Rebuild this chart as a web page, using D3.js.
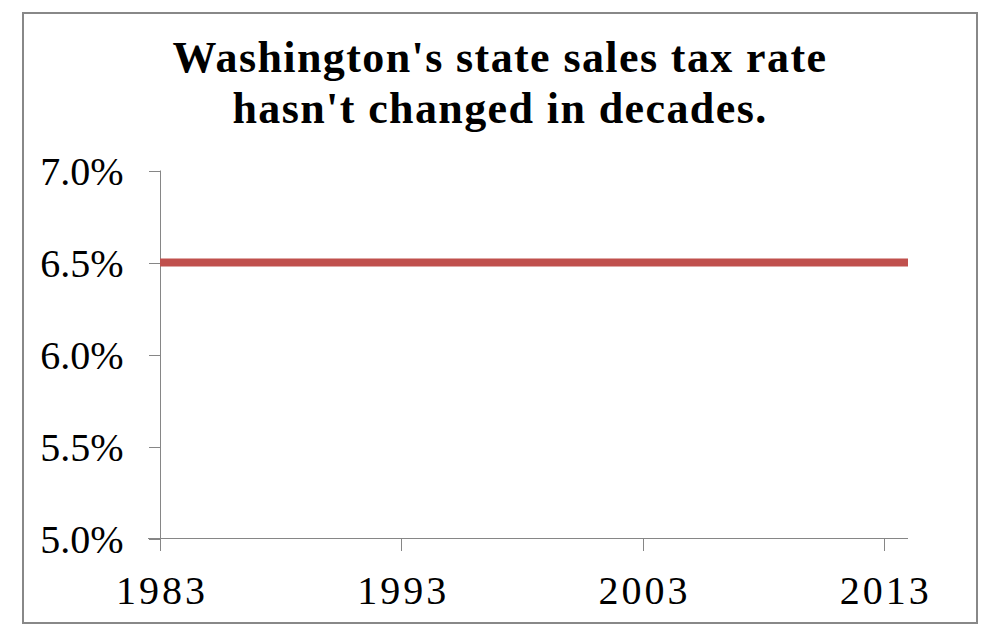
<!DOCTYPE html>
<html>
<head>
<meta charset="utf-8">
<script src="https://cdn.jsdelivr.net/npm/d3@7"></script>
<style>
  body { margin: 0; background: #fff; }
  .tick text { font-family: "Liberation Serif", serif; fill: #000; }
  .title { font-family: "Liberation Serif", serif; font-weight: bold; }
</style>
</head>
<body>
<div id="main"></div>
<script>
// data: Washington state sales tax rate, 1983-2014
var years = d3.range(1983, 2015);
var rates = [6.5, 6.5, 6.5, 6.5, 6.5, 6.5, 6.5, 6.5, 6.5, 6.5, 6.5, 6.5,
             6.5, 6.5, 6.5, 6.5, 6.5, 6.5, 6.5, 6.5, 6.5, 6.5, 6.5, 6.5,
             6.5, 6.5, 6.5, 6.5, 6.5, 6.5, 6.5, 6.5];
var yTicks = [5.0, 5.5, 6.0, 6.5, 7.0];
var xTicks = [1983, 1993, 2003, 2013];
var titleLines = ["Washington's state sales tax rate", "hasn't changed in decades."];

var ctx = {w: 1004, h: 631};

var createViz = function(){
    var svg = d3.select("#main").append("svg")
                .attr("width", ctx.w)
                .attr("height", ctx.h);

    // outer frame
    svg.append("rect")
       .attr("x", 23).attr("y", 13)
       .attr("width", 954).attr("height", 610)
       .attr("fill", "#fff")
       .attr("stroke", "#888")
       .attr("stroke-width", 2);

    // title
    svg.selectAll("text.title")
       .data(titleLines)
       .enter()
       .append("text")
       .classed("title", true)
       .attr("x", 500)
       .attr("y", function(d, i){ return 72 + i*51; })
       .attr("text-anchor", "middle")
       .style("font-size", "44px")
       .style("letter-spacing", "1.4px")
       .text(function(d){ return d; });

    var xScale = d3.scaleLinear().domain([1983, 2014]).range([160, 908]);
    var yScale = d3.scaleLinear().domain([5, 7]).range([538.5, 170.5]);

    var yAxis = svg.append("g")
       .attr("transform", "translate(160.5,0)")
       .call(d3.axisLeft(yScale).tickValues(yTicks).tickSize(12).tickPadding(25)
               .tickFormat(function(d){ return d3.format(".1f")(d) + "%"; }));
    yAxis.selectAll("text").style("font-size", "40px").attr("dy", "0.35em");

    var xAxis = svg.append("g")
       .attr("transform", "translate(0,538.5)")
       .call(d3.axisBottom(xScale).tickValues(xTicks).tickSize(12).tickPadding(25)
               .tickFormat(d3.format("d")));
    xAxis.selectAll("text")
         .style("font-size", "40px")
         .style("letter-spacing", "3px")
         .attr("dx", "1.5px");
    // extend the x axis line left to meet the y tick
    xAxis.select(".domain").attr("d", "M148,0H908");

    svg.selectAll(".domain, .tick line")
       .attr("stroke", "#868686")
       .attr("stroke-width", 1);
    yAxis.select(".domain").attr("d", "M0,170.5V550");
    svg.selectAll(".tick line").attr("shape-rendering", "crispEdges");

    var line = d3.line()
                 .x(function(d, i){ return xScale(years[i]); })
                 .y(function(d){ return yScale(d); });

    svg.append("path")
       .datum(rates)
       .attr("d", line)
       .attr("fill", "none")
       .attr("stroke", "#C0504D")
       .attr("stroke-width", 8);
};

createViz();
</script>
</body>
</html>
